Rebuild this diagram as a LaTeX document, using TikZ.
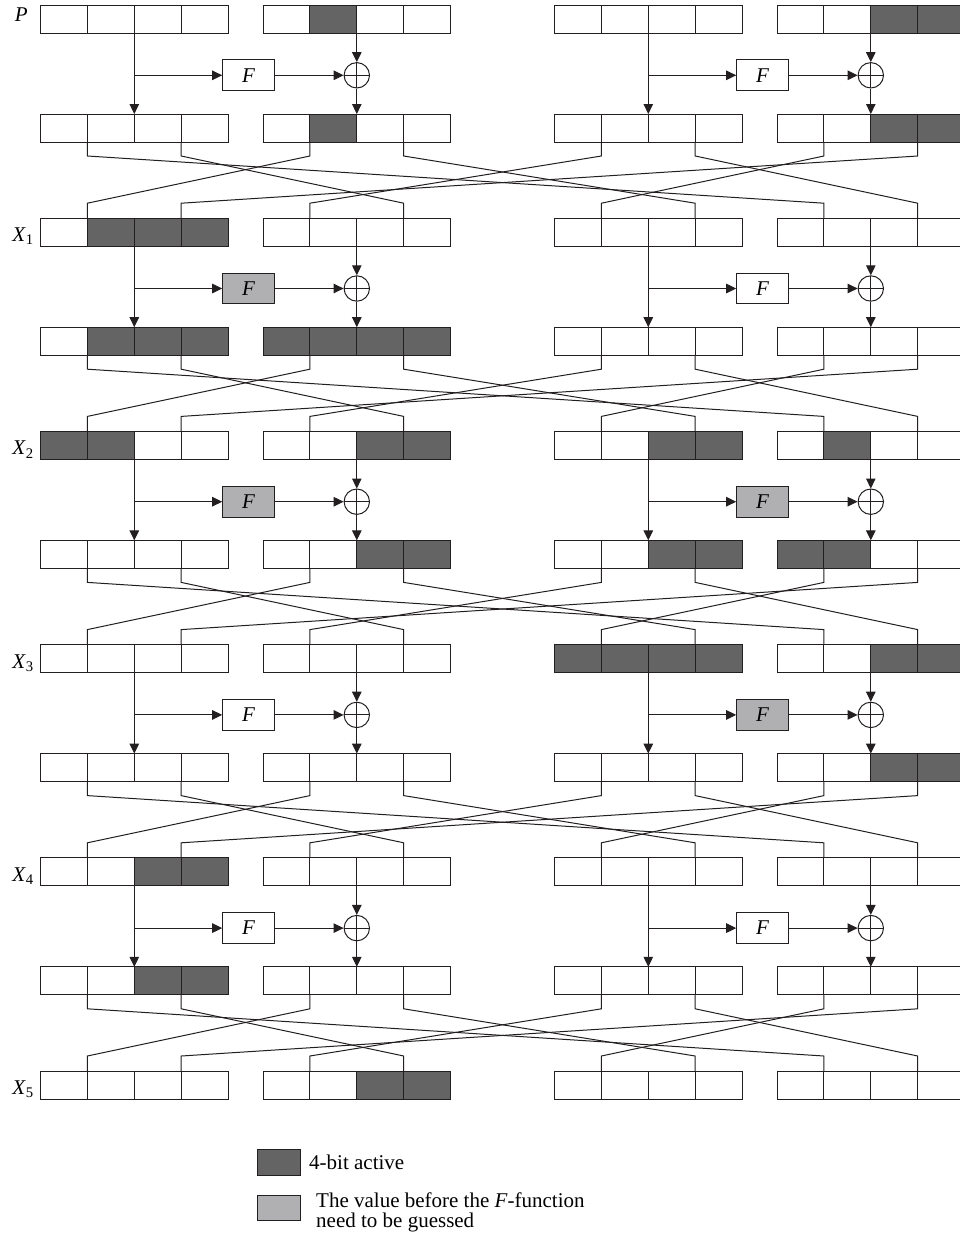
\documentclass[tikz,border=0pt]{standalone}
\usepackage{fontspec}
\setmainfont{Liberation Serif}
\usetikzlibrary{arrows.meta,positioning,calc}
\definecolor{actgray}{HTML}{646464}
\definecolor{guessgray}{HTML}{B0B0B2}
\definecolor{linecol}{HTML}{231F20}

\begin{document}
\begin{tikzpicture}[x=1pt, y=-1pt,
  cell/.style={draw=linecol, line width=1pt, minimum width=46.9pt,
               minimum height=28pt, inner sep=0pt, outer sep=0pt},
  fbox/.style={draw=linecol, line width=1pt, minimum width=51.6pt,
               minimum height=30.7pt, inner sep=0pt,
               font=\fontsize{21}{21}\selectfont\itshape},
  xorop/.style={draw=linecol, circle, line width=1pt, minimum size=25.4pt,
                inner sep=0pt,
                path picture={\draw[linecol, line width=1pt]
                  (path picture bounding box.north) -- (path picture bounding box.south)
                  (path picture bounding box.west) -- (path picture bounding box.east);}},
  arr/.style={draw=linecol, line width=1pt, -{Triangle[length=10pt, width=9.5pt]}},
  wire/.style={draw=linecol, line width=1pt, line join=miter},
  shade/.style={draw=linecol, line width=1pt, fill=actgray},
  lab/.style={inner sep=0pt, font=\fontsize{21}{21}\selectfont},
  legkey/.style={draw=linecol, line width=1pt, minimum width=43.4pt,
                 minimum height=25.8pt, inner sep=0pt}
]
\useasboundingbox (0,0) rectangle (959,1242);

\foreach \r/\t in {x0/5, y0/114, x1/218.2, y1/327.2, x2/431.4, y2/540.4,
                   x3/644.6, y3/753.6, x4/857.8, y4/966.8, x5/1071}
  \foreach \b/\l in {1/40.5, 2/263, 3/554.5, 4/777}
    \foreach \c in {1,...,4}
      \node[cell] (\r-\b-\c) at (\l+46.9*\c-23.45, \t+14) {};

\foreach \a in {x0-2-2, x0-4-3, x0-4-4, y0-2-2, y0-4-3, y0-4-4,
                x1-1-2, x1-1-3, x1-1-4,
                y1-1-2, y1-1-3, y1-1-4, y1-2-1, y1-2-2, y1-2-3, y1-2-4,
                x2-1-1, x2-1-2, x2-2-3, x2-2-4, x2-3-3, x2-3-4, x2-4-2,
                y2-2-3, y2-2-4, y2-3-3, y2-3-4, y2-4-1, y2-4-2,
                x3-3-1, x3-3-2, x3-3-3, x3-3-4, x3-4-3, x3-4-4,
                y3-4-3, y3-4-4, x4-1-3, x4-1-4, y4-1-3, y4-1-4,
                x5-2-3, x5-2-4}
  \draw[shade] (\a.north west) rectangle (\a.south east);

\foreach \k/\n in {0/1, 1/2, 2/3, 3/4, 4/5}
  \foreach \s/\d in {1-1/4-1, 1-3/2-3, 2-1/1-1, 2-3/3-3,
                     3-1/2-1, 3-3/4-3, 4-1/3-1, 4-3/1-3}
    \draw[wire] (y\k-\s.south east) -- ++(0,14)
      -- ([yshift=15pt]x\n-\d.north east) -- (x\n-\d.north east);

\foreach \k/\fl/\fr in {0/white/white, 1/guessgray/white, 2/guessgray/guessgray,
                        3/white/guessgray, 4/white/white} {
  \node[fbox, fill=\fl] (fL\k) at (248.5, 5+213.2*\k+70.3) {F};
  \node[fbox, fill=\fr] (fR\k) at (762.5, 5+213.2*\k+70.3) {F};
  \node[xorop] (pL\k) at (x\k-2-2.south east |- fL\k) {};
  \node[xorop] (pR\k) at (x\k-4-2.south east |- fR\k) {};
  \draw[arr] (x\k-1-2.south east) -- (y\k-1-2.north east);
  \draw[arr] (x\k-1-2.south east |- fL\k) -- (fL\k);
  \draw[arr] (fL\k) -- (pL\k);
  \draw[arr] (x\k-2-2.south east) -- (pL\k);
  \draw[arr] (pL\k) -- (y\k-2-2.north east);
  \draw[arr] (x\k-3-2.south east) -- (y\k-3-2.north east);
  \draw[arr] (x\k-3-2.south east |- fR\k) -- (fR\k);
  \draw[arr] (fR\k) -- (pR\k);
  \draw[arr] (x\k-4-2.south east) -- (pR\k);
  \draw[arr] (pR\k) -- (y\k-4-2.north east);
}

\node[lab, anchor=base east] (labp) at (28,21) {\textit{P}};
\foreach \k in {1,...,5}
  \node[lab, anchor=base east] (labx\k) at (34, 5+213.2*\k+23.5)
    {\textit{X}\textsubscript{\k}};

\node[legkey, fill=actgray] (keyact) at (279,1162.3) {};
\node[lab, anchor=west] (txtact) at (309,1162.3) {4-bit active};
\node[legkey, fill=guessgray] (keyguess) at (279,1208) {};
\node[lab, anchor=base west, align=left, font=\fontsize{21}{19.5}\selectfont]
  (txtguess) at (316,1227)
  {The value before the \textit{F}-function\\need to be guessed};
\end{tikzpicture}
\end{document}
